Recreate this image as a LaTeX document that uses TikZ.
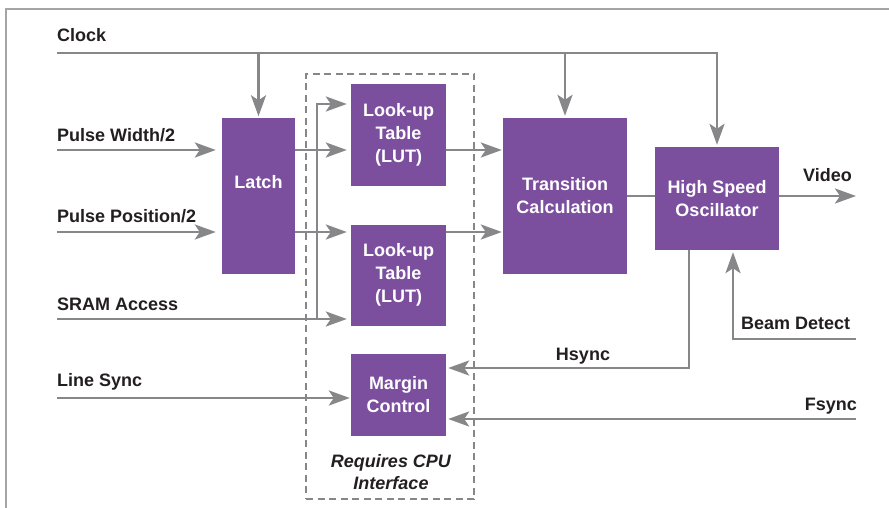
\documentclass[tikz,border=0pt]{standalone}
\usepackage{fontspec}
\setmainfont{Liberation Sans}
\usepackage{tikz}
\usetikzlibrary{arrows.meta}
\definecolor{blockpurple}{RGB}{123,79,158}
\definecolor{wiregray}{RGB}{135,135,137}
\definecolor{framegray}{RGB}{165,165,165}
\definecolor{labelblack}{RGB}{35,31,32}

\begin{document}
\begin{tikzpicture}[x=1pt,y=-1pt,>={Stealth[length=21pt,width=15pt,inset=5pt]},
	block/.style={fill=blockpurple,text=white,font=\fontsize{18}{23}\selectfont\bfseries,align=center,inner sep=0pt},
	lut/.style={block,minimum width=95pt,minimum height=101pt},
	wire/.style={draw=wiregray,line width=2.8pt},
	arr/.style={wire,->,shorten >=2pt},
	sig/.style={text=labelblack,font=\fontsize{18}{22}\selectfont\bfseries,inner sep=0pt},
	cpubox/.style={draw=wiregray,line width=2.2pt,dash pattern=on 7pt off 4.5pt,inner sep=0pt}]
		\useasboundingbox (0,0) rectangle (889,508);
		\draw[framegray,line width=1.5pt] (6,508) -- (6,9) -- (889,9);
		\node (cpu) [cpubox,minimum width=168pt,minimum height=425pt] at (390,286.5) {};
		\node (latch) [block,minimum width=73pt,minimum height=155pt,text depth=28pt] at (258.5,196) {Latch};
		\node (trans) [block,minimum width=124pt,minimum height=156pt,node distance=306.5pt,right of=latch] {Transition\\Calculation};
		\node (hso) [block,minimum width=124pt,minimum height=103pt,node distance=152pt,right of=trans,yshift=-2.5pt] {High Speed\\Oscillator};
		\node (lut1) [lut,node distance=140pt,right of=latch,yshift=61pt] {Look-up\\Table\\(LUT)};
		\node (lut2) [lut,node distance=140pt,below of=lut1] {Look-up\\Table\\(LUT)};
		\node (margin) [block,minimum width=95pt,minimum height=82pt,node distance=120pt,below of=lut2] {Margin\\Control};
		\node (cpulbl) [sig,font=\fontsize{18}{22}\selectfont\bfseries\itshape,align=center] at (391,472) {Requires CPU\\Interface};
		\node (clklbl) [sig,anchor=base west] at (57,42) {Clock};
		\node (pwlbl) [sig,anchor=base west] at (57,142) {Pulse Width/2};
		\node (pplbl) [sig,anchor=base west] at (57,222) {Pulse Position/2};
		\node (sramlbl) [sig,anchor=base west] at (57,310) {SRAM Access};
		\node (lslbl) [sig,anchor=base west] at (57,386) {Line Sync};
		\node (vidlbl) [sig,anchor=base west] at (803,182) {Video};
		\node (hsynclbl) [sig,anchor=base] at (583,360) {Hsync};
		\node (beamlbl) [sig,anchor=base west] at (741,329) {Beam Detect};
		\node (fsynclbl) [sig,anchor=base east] at (857,410) {Fsync};
		\coordinate (clkin) at (57,53);
		\coordinate (pwin) at (57,150);
		\coordinate (ppin) at (57,232);
		\coordinate (sramin) at (57,319);
		\coordinate (sramup) at (317,104);
		\coordinate (lsin) at (57,398);
		\coordinate (vidout) at (856,196);
		\coordinate (hsyncturn) at (689,368);
		\coordinate (beamin) at (856,339);
		\coordinate (beamturn) at (733,339);
		\coordinate (fsyncin) at (856,419);
		\draw[arr] (clkin) -| (hso.north);
		\draw[arr] (clkin -| latch.north) -- (latch.north);
		\draw[arr] (clkin -| trans.north) -- (trans.north);
		\draw[arr,shorten >=6pt] (pwin) -- (pwin -| latch.west);
		\draw[arr,shorten >=6pt] (ppin) -- (ppin -| latch.west);
		\draw[arr,shorten >=4pt] (latch.east |- pwin) -- (lut1.west |- pwin);
		\draw[arr,shorten >=4pt] (latch.east |- ppin) -- (lut2.west |- ppin);
		\draw[arr,shorten >=1pt] (lut1.east |- pwin) -- (trans.west |- pwin);
		\draw[arr,shorten >=1pt] (lut2.east |- ppin) -- (trans.west |- ppin);
		\draw[arr,shorten >=4pt] (sramin) -- (sramin -| lut2.west);
		\draw[arr,shorten >=4pt] (sramin -| sramup) -- (sramup) -- (sramup -| lut1.west);
		\draw[arr,shorten >=1pt] (lsin) -- (lsin -| margin.west);
		\draw[wire] (trans.east |- vidout) -- (hso.west |- vidout);
		\draw[arr,shorten >=0pt] (hso.east |- vidout) -- (vidout);
		\draw[arr] (hso.south -| hsyncturn) -- (hsyncturn) -- (hsyncturn -| margin.east);
		\draw[arr] (beamin) -- (beamturn) -- (hso.south -| beamturn);
		\draw[arr] (fsyncin) -- (fsyncin -| margin.east);
\end{tikzpicture}
\end{document}
